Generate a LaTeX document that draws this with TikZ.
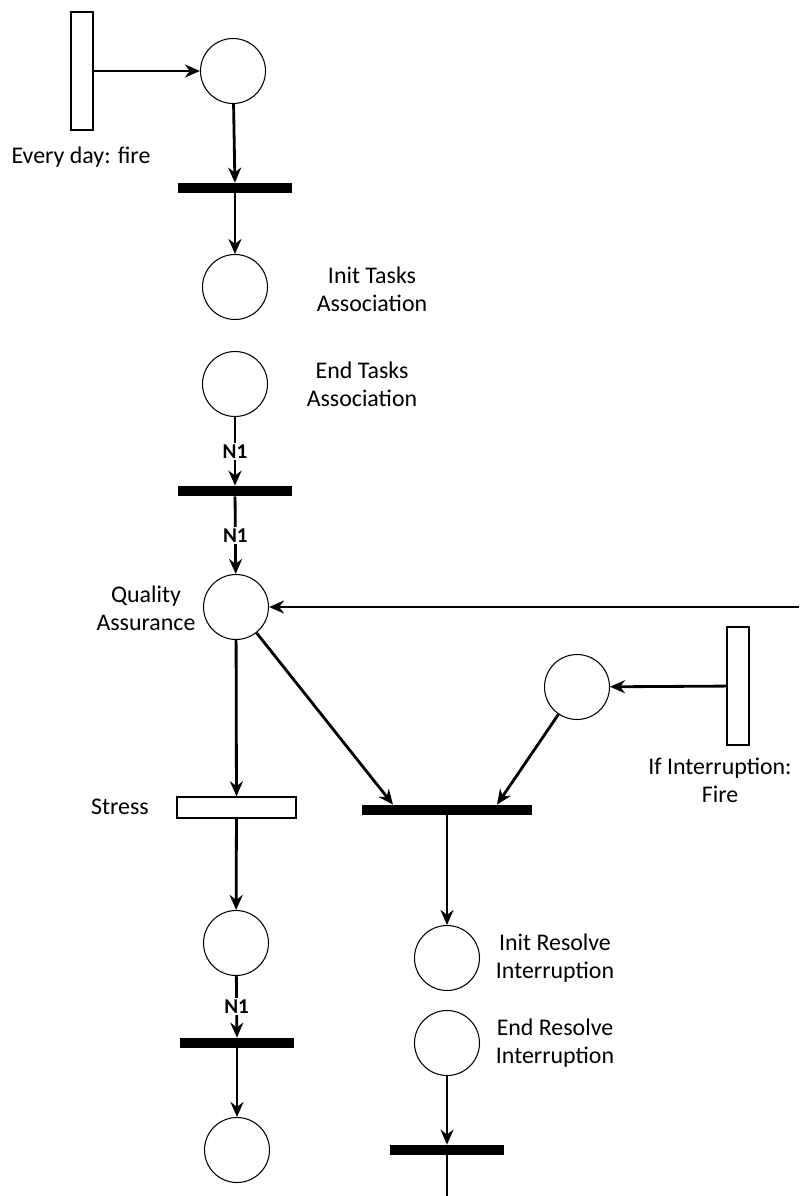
\documentclass[tikz,border=0pt]{standalone}
\usepackage{fontspec}
\setmainfont{Carlito}
\usetikzlibrary{arrows.meta,positioning}

\begin{document}
\begin{tikzpicture}[x=0.02cm,y=-0.02cm,
  every node/.style={font=\fontsize{13.6}{16}\selectfont},
  place/.style={circle,draw,line width=.6pt,minimum size=1.3cm,inner sep=0pt},
  bar/.style={fill=black,minimum width=2.28cm,minimum height=0.2cm,inner sep=0pt},
  tvert/.style={draw,line width=.8pt,minimum width=0.44cm,minimum height=2.36cm,inner sep=0pt},
  thorz/.style={draw,line width=.8pt,minimum width=2.38cm,minimum height=0.42cm,inner sep=0pt},
  arc/.style={line width=1.6pt,-{Stealth[length=3mm,width=2.6mm]}},
  wlab/.style={font=\bfseries\fontsize{12}{14}\selectfont,fill=white,inner sep=1pt},
  txt/.style={align=center}]
\useasboundingbox (0,0) rectangle (799,1196);
\coordinate (rin) at (799,607);
\coordinate (bout) at (447,1196);
\node[tvert] (t0) at (82,71) {};
\node[place] (p0) at (233,71) {};
\node[bar] (b0) at (235,188) {};
\node[place] (p1) at (235,287) {};
\node[place] (p2) at (235,384) {};
\node[bar] (b1) at (235,491) {};
\node[place] (p3) at (236,607) {};
\node[place] (p4) at (577,687) {};
\node[tvert] (t1) at (738,686) {};
\node[thorz] (t2) at (236.5,807.5) {};
\node[bar,minimum width=3.4cm] (b2) at (447,810) {};
\node[place] (p5) at (236,943) {};
\node[bar] (b3) at (237,1043) {};
\node[place] (p6) at (237,1150) {};
\node[place] (p7) at (447,958) {};
\node[place] (p8) at (447,1043) {};
\node[bar] (b4) at (447,1150) {};
\node[txt] (lt0) at (81,157) {Every day: fire};
\node[txt] (lp1) at (372,289) {Init Tasks\\Association};
\node[txt] (lp2) at (362,384) {End Tasks\\Association};
\node[txt] (lp3) at (146,608) {Quality\\Assurance};
\node[anchor=east] (lt2) at (155,807) {Stress};
\node[txt] (lt1) at (720,780) {If Interruption:\\Fire};
\node[txt] (lp7) at (555,958) {Init Resolve\\Interruption};
\node[txt] (lp8) at (555,1043) {End Resolve\\Interruption};
\draw[arc] (t0) -- (p0);
\draw[arc] (p0) -- (b0);
\draw[arc] (b0) -- (p1);
\draw[arc] (p2) -- node[wlab] {N1} (b1);
\draw[arc] (b1) -- node[wlab] {N1} (p3);
\draw[arc] (rin) -- (p3);
\draw[arc] (p3) -- (t2);
\draw[arc] (p3) -- ([xshift=-1.08cm]b2.north);
\draw[arc] (t1) -- (p4);
\draw[arc] (p4) -- ([xshift=1cm]b2.north);
\draw[arc] (t2) -- (p5);
\draw[arc] (p5) -- node[wlab] {N1} (b3);
\draw[arc] (b3) -- (p6);
\draw[arc] (b2) -- (p7);
\draw[arc] (p8) -- (b4);
\draw[line width=1.6pt] (b4) -- (bout);
\end{tikzpicture}
\end{document}
